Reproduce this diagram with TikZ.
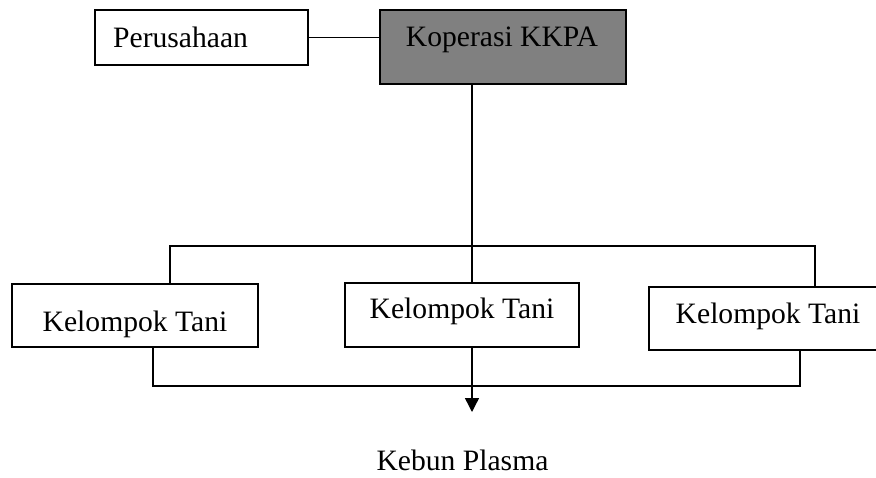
\documentclass[tikz,border=0pt]{standalone}
\usepackage{fontspec}
\setmainfont{Liberation Serif}
\usetikzlibrary{arrows.meta}
\begin{document}
\begin{tikzpicture}[x=1pt,y=-1pt,
  box/.style={draw=black, line width=1.4pt, inner sep=0pt, minimum width=#1},
  txt/.style={font=\fontsize{29.6}{34}\selectfont, inner sep=0pt, anchor=base},
  link/.style={draw=black, line width=1.4pt},
  tipline/.style={link, -{Triangle[width=14pt,length=14pt]}}]
\useasboundingbox (0,0) rectangle (876,477);
% boxes
\node[box=213pt, minimum height=55pt] (per) at (201.5,37.5) {};
\node[box=246pt, minimum height=74pt, fill=gray] (kop) at (503,47) {};
\node[box=246pt, minimum height=63pt] (kt1) at (135,315.5) {};
\node[box=234pt, minimum height=64pt] (kt2) at (462,315) {};
\node[box=236pt, minimum height=63pt] (kt3) at (767,318.5) {};
% texts
\node[txt, anchor=base west] (tper) at (113,47) {Perusahaan};
\node[txt] (tkop) at (502,46) {Koperasi KKPA};
\node[txt] (tkt1) at (135,331) {Kelompok Tani};
\node[txt] (tkt2) at (462,318) {Kelompok Tani};
\node[txt] (tkt3) at (768,323) {Kelompok Tani};
\node[txt] (keb) at (462.5,470) {Kebun Plasma};
% coordinates
\coordinate (hub) at (472,246);
\coordinate (tl) at (170,246);
\coordinate (tr) at (815,246);
\coordinate (bl) at (153,386);
\coordinate (br) at (800,386);
\coordinate (tip) at (472,412);
% connectors
\draw[link] (per.east) -- (kop.west |- per.east);
\draw[link] (kop.south -| hub) -- (hub |- kt2.north);
\draw[link] (tl |- kt1.north) -- (tl) -- (tr) -- (tr |- kt3.north);
\draw[link] (bl |- kt1.south) -- (bl) -- (br) -- (br |- kt3.south);
\draw[tipline] (kt2.south -| tip) -- (tip);
\end{tikzpicture}
\end{document}
